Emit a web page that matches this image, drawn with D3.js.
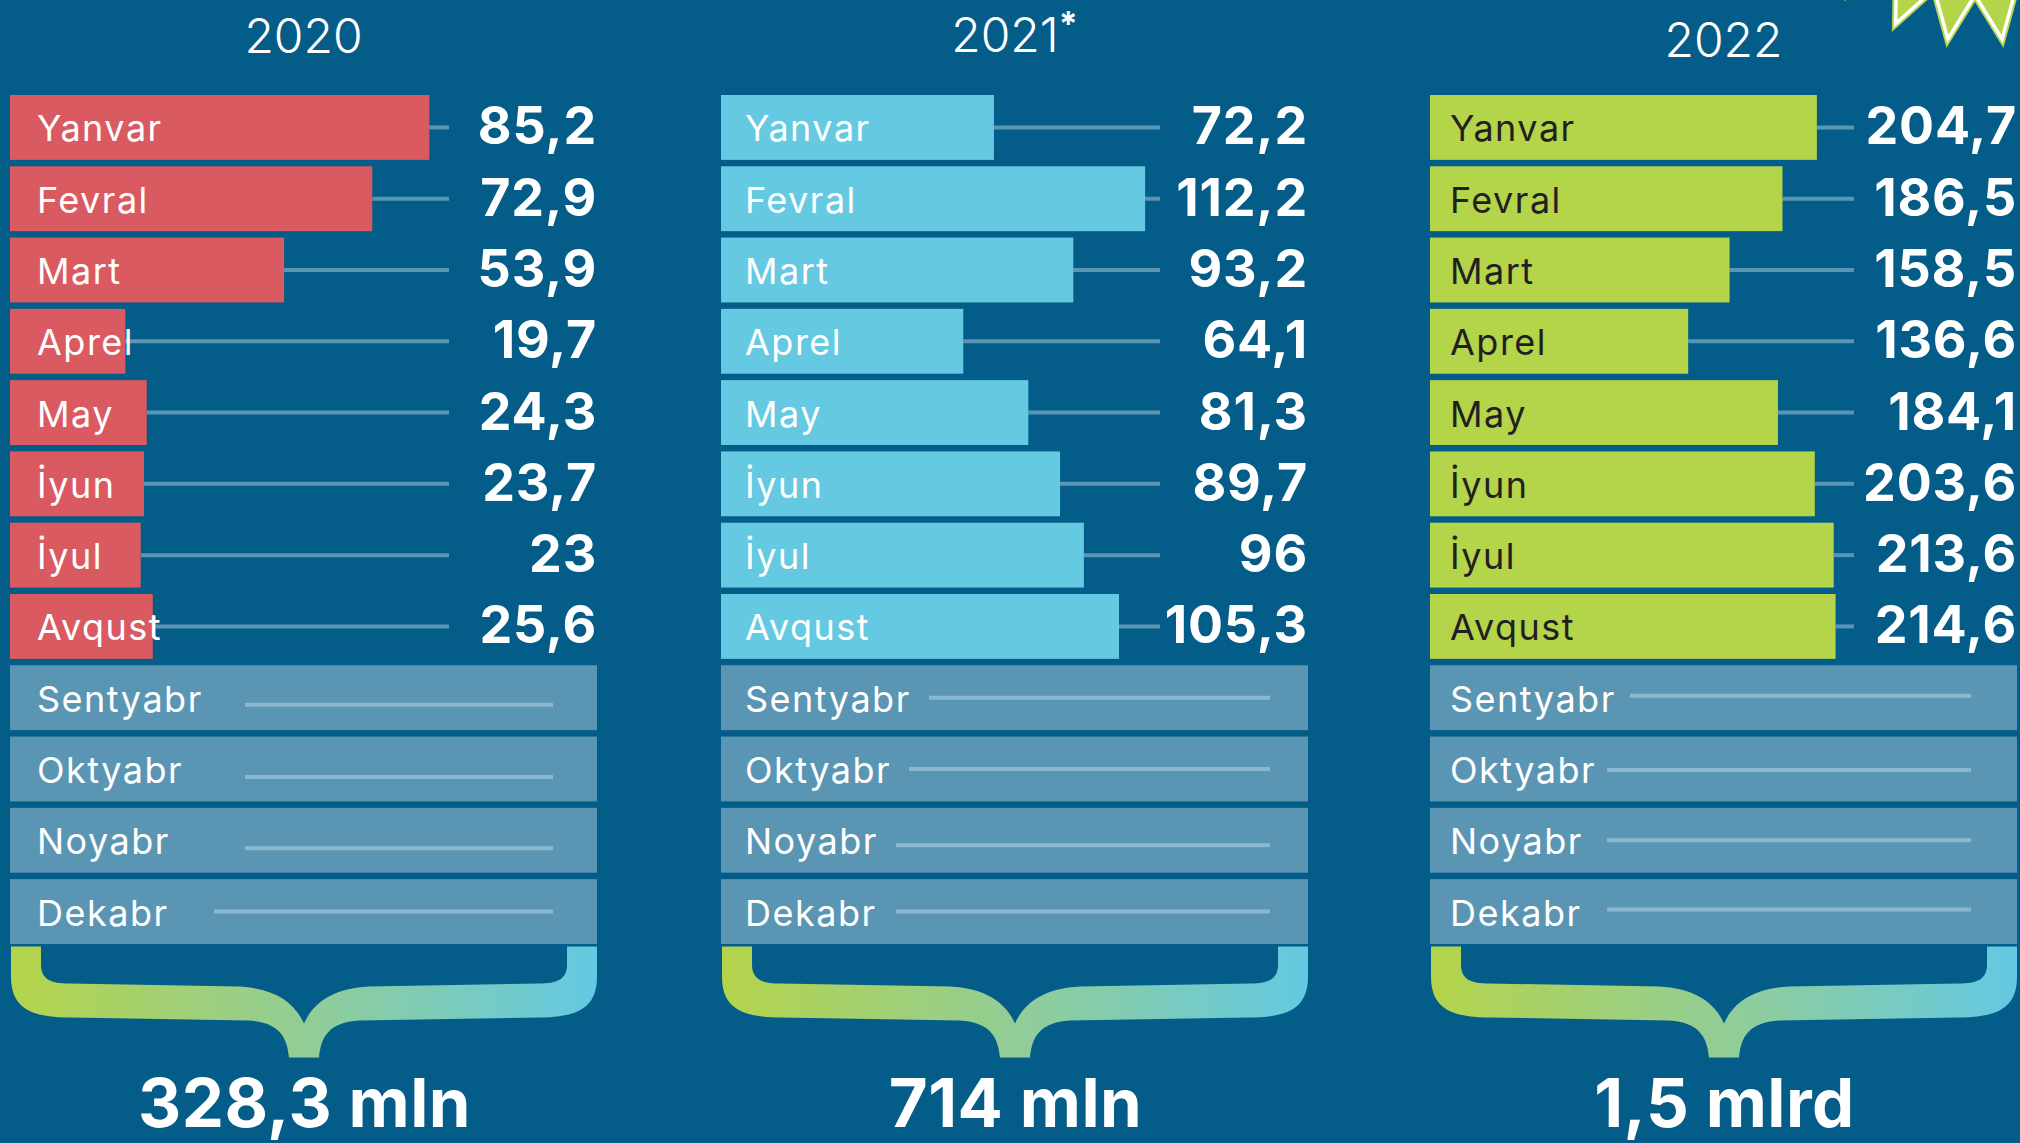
<!DOCTYPE html>
<html>
<head>
<meta charset="utf-8">
<script src="https://cdn.jsdelivr.net/npm/d3@7"></script>
<style>
  html, body { margin: 0; padding: 0; background: #045c88; }
  svg { display: block; }
</style>
</head>
<body>
<svg id="chart" width="2020" height="1143"></svg>
<script>
// ---- data ----
const months = ["Yanvar", "Fevral", "Mart", "Aprel", "May", "İyun", "İyul", "Avqust",
                "Sentyabr", "Oktyabr", "Noyabr", "Dekabr"];
const years = ["2020", "2021", "2022"];
const yearMarks = ["", "*", ""];
const values2020 = [85.2, 72.9, 53.9, 19.7, 24.3, 23.7, 23, 25.6];
const values2021 = [72.2, 112.2, 93.2, 64.1, 81.3, 89.7, 96, 105.3];
const values2022 = [204.7, 186.5, 158.5, 136.6, 184.1, 203.6, 213.6, 214.6];
const totals = ["328,3 mln", "714 mln", "1,5 mlrd"];

// ---- layout / style ----
const W = 2020, H = 1143;
const panelX = [10, 721, 1430];
const panelW = 587;
const reach = [[24, 488], [0, 378], [0, 189]];       // px at value 0 and 100
const guideEnd = [439, 439, 424];                    // leader line end (from panel left)
const labelPad = [27, 24, 20];
const titleBase = [53, 52, 57];
const emptyGuideStart = [[235, 235, 235, 204], [208, 188, 175, 175], [200, 177, 177, 177]];
const emptyGuideEnd = [543, 549, 541];
const emptyGuideDy = [[7, 8, 8, 0], [0, 0, 5, 0], [-2, 1, 0, -2]];
const barColor = ["#d95a60", "#65c9e1", "#b4d44a"];
const labelColor = ["#ffffff", "#ffffff", "#231f20"];
const bg = "#045c88";
const emptyFill = "#5a96b3";
const guideColor = "#5a96b4";
const emptyGuideColor = "#8cb8cf";
const fontFam = "Inter, 'Open Sans', sans-serif";

const series = [values2020, values2021, values2022];

const locale = d3.formatLocale({ decimal: ",", thousands: " ", grouping: [3], currency: ["", ""] });
const fmt = locale.format(".1~f");

const svg = d3.select("#chart");
svg.append("rect").attr("width", W).attr("height", H).attr("fill", bg);

const defs = svg.append("defs");
const grad = defs.append("linearGradient").attr("id", "braceGrad")
  .attr("x1", "0").attr("x2", "1").attr("y1", "0").attr("y2", "0");
grad.append("stop").attr("offset", "0").attr("stop-color", "#b5d44b");
grad.append("stop").attr("offset", "0.5").attr("stop-color", "#92cd96");
grad.append("stop").attr("offset", "1").attr("stop-color", "#63c9e2");

// rows
const y = d3.scaleBand().domain(months).range([95, 944]).paddingInner(0.09).paddingOuter(0);
const bh = y.bandwidth();

// curly brace under each panel
function bracePath(L, R, T) {
  const C = (L + R) / 2, p = d3.path();
  p.moveTo(L, T);
  p.lineTo(L, T + 30);
  p.bezierCurveTo(L, T + 62, L + 20, T + 71, L + 60, T + 71);
  p.lineTo(C - 55, T + 74);
  p.bezierCurveTo(C - 25, T + 76, C - 17, T + 90, C - 15, T + 111);
  p.lineTo(C + 15, T + 111);
  p.bezierCurveTo(C + 17, T + 90, C + 25, T + 76, C + 55, T + 74);
  p.lineTo(R - 60, T + 71);
  p.bezierCurveTo(R - 20, T + 71, R, T + 62, R, T + 30);
  p.lineTo(R, T);
  p.lineTo(R - 30, T);
  p.lineTo(R - 30, T + 18);
  p.bezierCurveTo(R - 30, T + 33, R - 40, T + 37, R - 58, T + 37);
  p.lineTo(C + 65, T + 40);
  p.bezierCurveTo(C + 30, T + 42, C + 10, T + 55, C, T + 77);
  p.bezierCurveTo(C - 10, T + 55, C - 30, T + 42, C - 65, T + 40);
  p.lineTo(L + 58, T + 37);
  p.bezierCurveTo(L + 40, T + 37, L + 30, T + 33, L + 30, T + 18);
  p.lineTo(L + 30, T);
  p.closePath();
  return p.toString();
}

years.forEach((yr, pi) => {
  const x0 = panelX[pi];
  const g = svg.append("g").attr("class", "panel panel-" + yr);
  const vals = series[pi];
  const x = d3.scaleLinear().domain([0, 100]).range([x0 + reach[pi][0], x0 + reach[pi][1]]);
  const filled = months.slice(0, vals.length).map((m, i) => ({ m, v: vals[i] }));
  const empty = months.slice(vals.length).map((m, i) => ({ m, i }));

  // title
  const t = g.append("text")
    .attr("x", x0 + panelW / 2).attr("y", titleBase[pi])
    .attr("text-anchor", "middle")
    .attr("font-family", fontFam).attr("font-weight", 300)
    .attr("font-size", 48).attr("fill", "#fff")
    .text(yr);
  if (yearMarks[pi]) {
    t.append("tspan").attr("font-weight", 700).attr("font-size", 34)
      .attr("dy", -16).text(yearMarks[pi]);
  }

  // months still to come
  g.selectAll("rect.empty").data(empty).join("rect")
    .attr("class", "empty")
    .attr("x", x0).attr("width", panelW)
    .attr("y", d => y(d.m)).attr("height", bh)
    .attr("fill", emptyFill);
  g.selectAll("line.eguide").data(empty).join("line")
    .attr("class", "eguide")
    .attr("x1", d => x0 + emptyGuideStart[pi][d.i])
    .attr("x2", x0 + emptyGuideEnd[pi])
    .attr("y1", d => y(d.m) + bh / 2 + emptyGuideDy[pi][d.i])
    .attr("y2", d => y(d.m) + bh / 2 + emptyGuideDy[pi][d.i])
    .attr("stroke", emptyGuideColor).attr("stroke-width", 4);
  g.selectAll("text.elabel").data(empty).join("text")
    .attr("class", "elabel")
    .attr("x", x0 + labelPad[pi]).attr("y", d => y(d.m) + bh / 2 + 14)
    .attr("font-family", fontFam).attr("font-size", 36).attr("letter-spacing", 1.5)
    .attr("fill", "#fff").text(d => d.m);

  // leader lines
  g.selectAll("line.guide").data(filled).join("line")
    .attr("class", "guide")
    .attr("x1", d => x(d.v)).attr("x2", x0 + guideEnd[pi])
    .attr("y1", d => y(d.m) + bh / 2).attr("y2", d => y(d.m) + bh / 2)
    .attr("stroke", guideColor).attr("stroke-width", 4)
    .attr("display", d => x(d.v) < x0 + guideEnd[pi] ? null : "none");

  // bars
  g.selectAll("rect.bar").data(filled).join("rect")
    .attr("class", "bar")
    .attr("x", x0).attr("y", d => y(d.m))
    .attr("width", d => x(d.v) - x0).attr("height", bh)
    .attr("fill", barColor[pi]);

  // month labels
  g.selectAll("text.label").data(filled).join("text")
    .attr("class", "label")
    .attr("x", x0 + labelPad[pi]).attr("y", d => y(d.m) + bh / 2 + 14)
    .attr("font-family", fontFam).attr("font-size", 36).attr("letter-spacing", 1.5)
    .attr("fill", labelColor[pi]).text(d => d.m);

  // values
  g.selectAll("text.value").data(filled).join("text")
    .attr("class", "value")
    .attr("x", x0 + panelW).attr("y", d => y(d.m) + bh / 2 + 17)
    .attr("text-anchor", "end")
    .attr("font-family", fontFam).attr("font-weight", 700)
    .attr("font-size", 52).attr("letter-spacing", 0.8).attr("fill", "#fff")
    .text(d => fmt(d.v));

  // brace + total
  g.append("path")
    .attr("d", bracePath(x0 + 1, x0 + panelW, 946.5))
    .attr("fill", "url(#braceGrad)");
  g.append("text")
    .attr("x", x0 + panelW / 2 + 1).attr("y", 1127)
    .attr("text-anchor", "middle")
    .attr("font-family", fontFam).attr("font-weight", 700)
    .attr("font-size", 67).attr("letter-spacing", 0.5).attr("fill", "#fff")
    .text(totals[pi]);
});

// starburst badge peeking in at the top right
function starPoints(cx, cy, R, r, n, rot) {
  return d3.range(2 * n).map(i => {
    const a = rot + i * Math.PI / n;
    const rad = i % 2 ? r : R;
    return [cx + rad * Math.cos(a), cy + rad * Math.sin(a)];
  });
}
const rot = 98.2 * Math.PI / 180;
const starLine = d3.line().curve(d3.curveLinearClosed);
svg.append("path")
  .attr("d", starLine(starPoints(1975, -150, 200, 152, 22, rot)))
  .attr("fill", "#b4d44a");
svg.append("path")
  .attr("d", starLine(starPoints(1975, -150, 191, 145, 22, rot)))
  .attr("fill", "none").attr("stroke", "#fff").attr("stroke-width", 3.5)
  .attr("stroke-linejoin", "miter");
</script>
</body>
</html>
